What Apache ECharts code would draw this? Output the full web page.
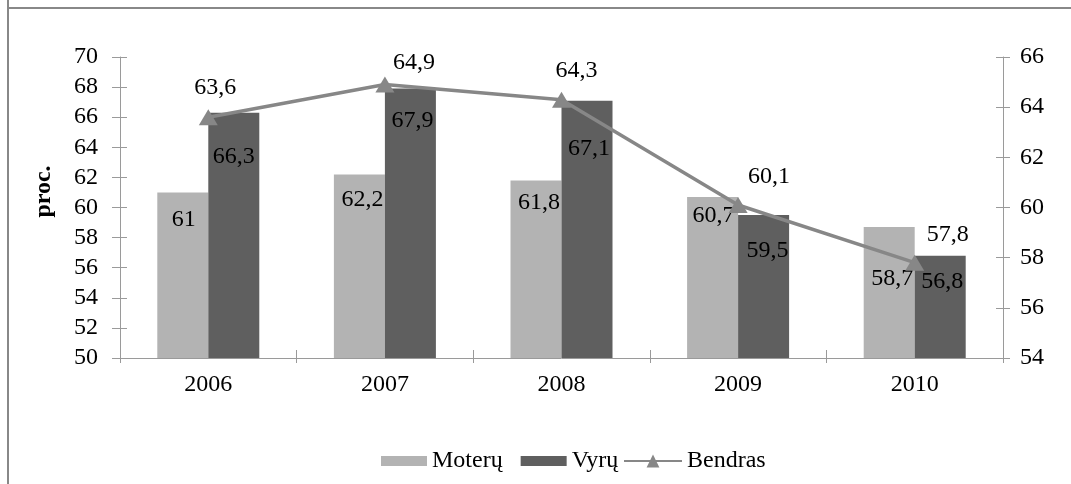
<!DOCTYPE html>
<html>
<head>
<meta charset="utf-8">
<script src="https://cdn.jsdelivr.net/npm/echarts@6/dist/echarts.min.js"></script>
<style>
html,body{margin:0;padding:0;background:#fff;}
#chart{width:1071px;height:484px;}
</style>
</head>
<body>
<div id="chart"></div>
<script>
// ---- data ----
const categories = ['2006', '2007', '2008', '2009', '2010'];
const moteru = [61, 62.2, 61.8, 60.7, 58.7];
const vyru = [66.3, 67.9, 67.1, 59.5, 56.8];
const bendras = [63.6, 64.9, 64.3, 60.1, 57.8];
const seriesNames = ['Moterų', 'Vyrų', 'Bendras'];
const leftTicks = {min: 50, max: 70, interval: 2};
const rightTicks = {min: 54, max: 66, interval: 2};

// ---- layout (label placement, as in the original) ----
const moteruLabelOffset = [[1, 15], [3, 13], [3, 10], [1, 7], [3, 40]];
const vyruLabelOffset = [[0, 32], [2, 20], [2, 36], [4, 24], [2, 14]];
const bendrasLabelOffset = [[7, -29], [29, -22], [15, -29], [31, -28], [33, -28]];

const FONT = '"Liberation Serif", "Times New Roman", serif';
const FS = 24;
const fmt = p => String(p.value).replace('.', ',');
const axisColor = '#9a9a9a';

const chart = echarts.init(document.getElementById('chart'), null, {renderer: 'canvas'});

const barLabel = {show: true, position: 'insideTop', distance: 0, color: '#000',
  fontFamily: FONT, fontSize: FS, formatter: fmt};

chart.setOption({
  animation: false,
  backgroundColor: '#fff',
  textStyle: {fontFamily: FONT},
  graphic: [
    {type: 'line', shape: {x1: 8, y1: 0, x2: 8, y2: 484}, style: {stroke: '#888', lineWidth: 2}},
    {type: 'line', shape: {x1: 7, y1: 8, x2: 1071, y2: 8}, style: {stroke: '#888', lineWidth: 2}}
  ],
  grid: {left: 120, right: 68, top: 57, bottom: 126, containLabel: false},
  legend: [
    {
      data: [seriesNames[0], seriesNames[1]],
      left: 376, top: 444,
      itemWidth: 46, itemHeight: 10, itemGap: 18, itemTextGap: 3,
      icon: 'rect',
      textStyle: {fontFamily: FONT, fontSize: FS, color: '#000'}
    },
    {
      data: [seriesNames[2]],
      left: 618, top: 444,
      itemWidth: 58, itemHeight: 16, itemTextGap: 3,
      textStyle: {fontFamily: FONT, fontSize: FS, color: '#000'}
    }
  ],
  xAxis: [
    {
      type: 'category', data: categories, position: 'bottom',
      axisLine: {lineStyle: {color: axisColor, width: 1}},
      axisTick: {show: true, length: 5, lineStyle: {color: axisColor}},
      axisLabel: {color: '#000', fontFamily: FONT, fontSize: FS, margin: 15}
    },
    {
      type: 'category', data: categories, position: 'bottom',
      axisLine: {show: false},
      axisTick: {show: true, inside: true, length: 8, lineStyle: {color: axisColor}},
      axisLabel: {show: false}
    }
  ],
  yAxis: [
    {
      type: 'value', position: 'left', min: leftTicks.min, max: leftTicks.max, interval: leftTicks.interval,
      name: 'proc.', nameLocation: 'middle', nameRotate: 90, nameGap: 64,
      nameTextStyle: {fontFamily: FONT, fontSize: FS, fontWeight: 'bold', color: '#000', padding: [0, 0, 0, 32]},
      axisLine: {show: true, lineStyle: {color: axisColor}},
      axisTick: {show: true, length: 8, lineStyle: {color: axisColor}},
      axisLabel: {color: '#000', fontFamily: FONT, fontSize: FS, margin: 22},
      splitLine: {show: false}
    },
    {
      type: 'value', position: 'right', min: rightTicks.min, max: rightTicks.max, interval: rightTicks.interval,
      axisLine: {show: true, lineStyle: {color: axisColor}},
      axisTick: {show: true, length: 7, lineStyle: {color: axisColor}},
      axisLabel: {color: '#000', fontFamily: FONT, fontSize: FS, margin: 17},
      splitLine: {show: false}
    },
    {
      type: 'value', position: 'left', min: leftTicks.min, max: leftTicks.max, interval: leftTicks.interval,
      axisLine: {show: false},
      axisTick: {show: true, inside: true, length: 7, lineStyle: {color: axisColor}},
      axisLabel: {show: false}, splitLine: {show: false}
    },
    {
      type: 'value', position: 'right', min: rightTicks.min, max: rightTicks.max, interval: rightTicks.interval,
      axisLine: {show: false},
      axisTick: {show: true, inside: true, length: 7, lineStyle: {color: axisColor}},
      axisLabel: {show: false}, splitLine: {show: false}
    }
  ],
  series: [
    {
      name: seriesNames[0], type: 'bar', xAxisIndex: 0, yAxisIndex: 0,
      barWidth: 51, barGap: '0%',
      itemStyle: {color: '#b3b3b3'},
      label: barLabel,
      data: moteru.map((v, i) => ({value: v, label: {offset: moteruLabelOffset[i]}}))
    },
    {
      name: seriesNames[1], type: 'bar', xAxisIndex: 0, yAxisIndex: 0,
      barWidth: 51, barGap: '0%',
      itemStyle: {color: '#5f5f5f'},
      label: barLabel,
      data: vyru.map((v, i) => ({value: v, label: {offset: vyruLabelOffset[i]}}))
    },
    {
      name: seriesNames[2], type: 'line', xAxisIndex: 0, yAxisIndex: 1, z: 5,
      symbol: 'triangle', symbolSize: [19, 16],
      lineStyle: {color: '#878787', width: 3.5},
      itemStyle: {color: '#878787'},
      label: {show: true, position: 'inside', color: '#000', fontFamily: FONT, fontSize: FS, formatter: fmt},
      data: bendras.map((v, i) => ({value: v, label: {offset: bendrasLabelOffset[i]}}))
    }
  ]
});
</script>
</body>
</html>
